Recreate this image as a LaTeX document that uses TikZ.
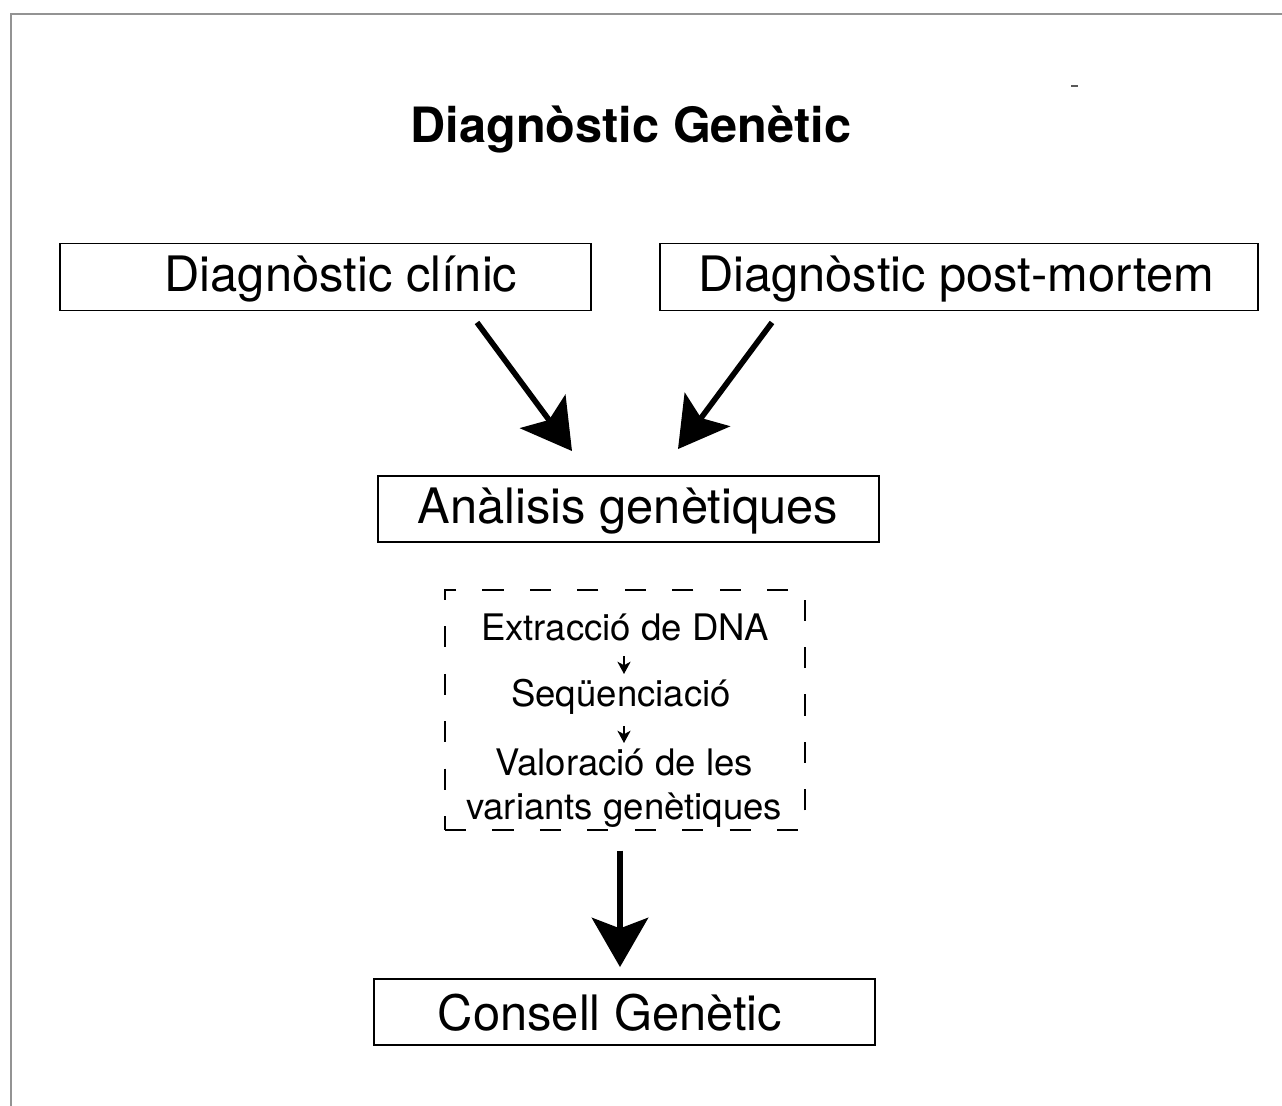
\documentclass[tikz,border=0pt]{standalone}
\usepackage{fontspec}
\setmainfont{TeX Gyre Heros}
\usepackage{tikz}
\usetikzlibrary{arrows.meta, positioning, calc}

\begin{document}
\begin{tikzpicture}[
    x=0.02cm, y=-0.02cm,
    block/.style={rectangle, draw, line width=1.1pt, minimum height=1.34cm, inner sep=0pt},
    boxtext/.style={font=\fontsize{27.8}{32}\selectfont, inner sep=0pt},
    stepnode/.style={font=\fontsize{20.8}{25}\selectfont, align=center, inner sep=0pt},
    bigarrow/.style={line width=3.2pt, -{Stealth[length=28pt, width=32pt, inset=6pt]}},
    smallarrow/.style={line width=1pt, -{Stealth[length=7pt, width=7.5pt, inset=2pt]}}
]
    \useasboundingbox (0,0) rectangle (1282,1106);

    % Page frame
    \coordinate (pagetl) at (11,14);
    \draw [line width=1.3pt, gray!85] (11,1106) -- (pagetl) -- (1282,14);
    \draw [line width=1.1pt, gray!70!black] (1071,86) -- (1078,86);

    % Title
    \node [font=\fontsize{27.7}{32}\selectfont\bfseries] (title) at (631,130) {Diagnòstic Genètic};

    % Top row
    \node [block, minimum width=10.62cm] (clinic) at (325.5,277) {};
    \node [boxtext] (clinictext) at (341,279) {Diagnòstic clínic};
    \node [block, minimum width=11.96cm] (postmortem) at (959,277) {};
    \node [boxtext] (postmortemtext) at (956,279) {Diagnòstic post-mortem};

    % Analysis
    \node [block, minimum width=10.02cm, minimum height=1.32cm] (analysis) at (628.5,509) {};
    \node [boxtext] (analysistext) at (628,511) {Anàlisis genètiques};

    % Steps
    \node [draw, line width=0.8pt, dash pattern=on 12pt off 15pt, minimum width=7.2cm, minimum height=4.8cm] (steps) at (625,710) {};
    \node [stepnode] (extract) at (625,627) {Extracció de DNA};
    \node [stepnode] (sequence) at (621,697) {Seqüenciació};
    \node [stepnode] (assess) at (624,788) {Valoració de les\\variants genètiques};

    % Result
    \node [block, minimum width=10.02cm, minimum height=1.32cm] (advice) at (624.5,1012) {};
    \node [boxtext] (advicetext) at (610,1013) {Consell Genètic};

    % Arrows
    \draw [bigarrow] ($(clinic.south)+(151.5,11)$) -- ($(analysis.north)+(-56.5,-24)$);
    \draw [bigarrow] ($(postmortem.south)+(-187,11)$) -- ($(analysis.north)+(49.5,-26)$);
    \draw [smallarrow] ($(extract.center)+(-1,29)$) -- ($(sequence.center)+(3,-23)$);
    \draw [smallarrow] ($(sequence.center)+(3,29)$) -- ($(assess.center)+(0,-45)$);
    \draw [bigarrow] ($(steps.south)+(-5,20)$) -- ($(advice.north)+(-4.5,-11)$);
\end{tikzpicture}
\end{document}
